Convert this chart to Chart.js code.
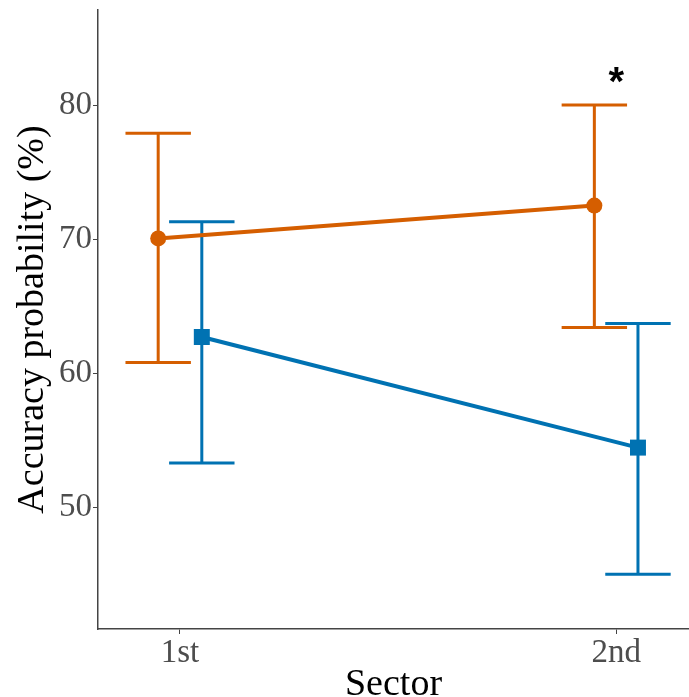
<!DOCTYPE html>
<html>
<head>
<meta charset="utf-8">
<script src="https://cdn.jsdelivr.net/npm/chart.js@4/dist/chart.umd.min.js"></script>
<style>
  html, body { margin: 0; padding: 0; background: #fff; }
  #wrap { width: 689px; height: 697px; position: relative; }
</style>
</head>
<body>
<div id="wrap"><canvas id="chart"></canvas></div>
<script>
const sectors = ["1st", "2nd"]
const sectorPos = [1, 2]
const yTicks = [50, 60, 70, 80]

// group A (orange, circles)
const groupAMean = [70.05, 72.5]
const groupALow = [60.8, 63.4]
const groupAHigh = [77.9, 80.0]

// group B (blue, squares)
const groupBMean = [62.7, 54.45]
const groupBLow = [53.3, 45.0]
const groupBHigh = [71.3, 63.7]

// significance marks
const sigSector = [2]
const sigY = [82.25]
const sigText = ["*"]

const ORANGE = "#D55E00"
const BLUE = "#0072B2"
const AXIS = "#444"
const DODGE = 0.05
const CAP = 0.075

const pts = (mean, shift) => mean.map((v, i) => ({ x: sectorPos[i] + shift, y: v }))

const errorBars = {
  id: "errorBars",
  beforeDatasetsDraw(chart) {
    const { ctx, scales: { x, y } } = chart
    chart.data.datasets.forEach(ds => {
      ds.data.forEach((p, i) => {
        const px = x.getPixelForValue(p.x)
        const lo = y.getPixelForValue(ds.errLow[i])
        const hi = y.getPixelForValue(ds.errHigh[i])
        const l = x.getPixelForValue(p.x - CAP)
        const r = x.getPixelForValue(p.x + CAP)
        ctx.save()
        ctx.strokeStyle = ds.borderColor
        ctx.lineWidth = 3
        ctx.beginPath()
        ctx.moveTo(px, lo); ctx.lineTo(px, hi)
        ctx.moveTo(l, lo); ctx.lineTo(r, lo)
        ctx.moveTo(l, hi); ctx.lineTo(r, hi)
        ctx.stroke()
        ctx.restore()
      })
    })
  },
  afterDatasetsDraw(chart) {
    const { ctx, scales: { x, y } } = chart
    ctx.save()
    ctx.fillStyle = "#000"
    ctx.font = "bold 40px 'Liberation Sans', Arial, sans-serif"
    ctx.textAlign = "center"
    ctx.textBaseline = "alphabetic"
    sigSector.forEach((s, i) => {
      const m = ctx.measureText(sigText[i])
      const cy = y.getPixelForValue(sigY[i])
      const base = cy + (m.actualBoundingBoxAscent - m.actualBoundingBoxDescent) / 2
      ctx.fillText(sigText[i], x.getPixelForValue(s), base)
    })
    ctx.restore()
  },
}

new Chart(document.getElementById("chart"), {
  type: "line",
  data: {
    datasets: [
      {
        label: "Group A",
        data: pts(groupAMean, -DODGE),
        errLow: groupALow,
        errHigh: groupAHigh,
        borderColor: ORANGE,
        backgroundColor: ORANGE,
        borderWidth: 4,
        pointStyle: "circle",
        pointRadius: 8,
        pointBorderWidth: 0,
      },
      {
        label: "Group B",
        data: pts(groupBMean, DODGE),
        errLow: groupBLow,
        errHigh: groupBHigh,
        borderColor: BLUE,
        backgroundColor: BLUE,
        borderWidth: 4,
        pointStyle: "rect",
        pointRadius: 11.3,
        pointBorderWidth: 0,
      },
    ],
  },
  options: {
    responsive: true,
    maintainAspectRatio: false,
    animation: false,
    layout: { autoPadding: false, padding: { top: 10, right: 0, left: 0, bottom: 0 } },
    plugins: { legend: { display: false }, tooltip: { enabled: false } },
    scales: {
      x: {
        type: "linear",
        min: 0.812,
        max: 2.167,
        afterBuildTicks: s => { s.ticks = sectorPos.map(v => ({ value: v })) },
        afterFit: s => { s.height = 68; s.paddingLeft = 0; s.paddingRight = 0 },
        ticks: {
          callback: v => sectors[sectorPos.indexOf(v)],
          color: "#4d4d4d",
          font: { family: "'Liberation Serif', 'Times New Roman', serif", size: 33 },
          padding: 0,
          maxRotation: 0,
        },
        grid: { drawOnChartArea: false, drawTicks: true, tickLength: 5, color: AXIS, lineWidth: 1 },
        border: { display: true, color: AXIS, width: 1.5 },
        title: {
          display: true,
          text: "Sector",
          color: "#000",
          font: { family: "'Liberation Serif', 'Times New Roman', serif", size: 38, lineHeight: 1 },
          padding: { top: 0, bottom: -7 },
        },
      },
      y: {
        min: 40.92,
        max: 87.09,
        afterBuildTicks: s => { s.ticks = yTicks.map(v => ({ value: v })) },
        afterFit: s => { s.width = 98; s.paddingTop = 0; s.paddingBottom = 0 },
        ticks: {
          color: "#4d4d4d",
          font: { family: "'Liberation Serif', 'Times New Roman', serif", size: 33 },
          padding: 1,
        },
        grid: { drawOnChartArea: false, drawTicks: true, tickLength: 5, color: AXIS, lineWidth: 1 },
        border: { display: true, color: AXIS, width: 1.5 },
        title: {
          display: true,
          text: "Accuracy probability (%)",
          color: "#000",
          font: { family: "'Liberation Serif', 'Times New Roman', serif", size: 38, lineHeight: 1 },
          padding: { top: 14, bottom: 0 },
        },
      },
    },
  },
  plugins: [errorBars],
})
</script>
</body>
</html>
